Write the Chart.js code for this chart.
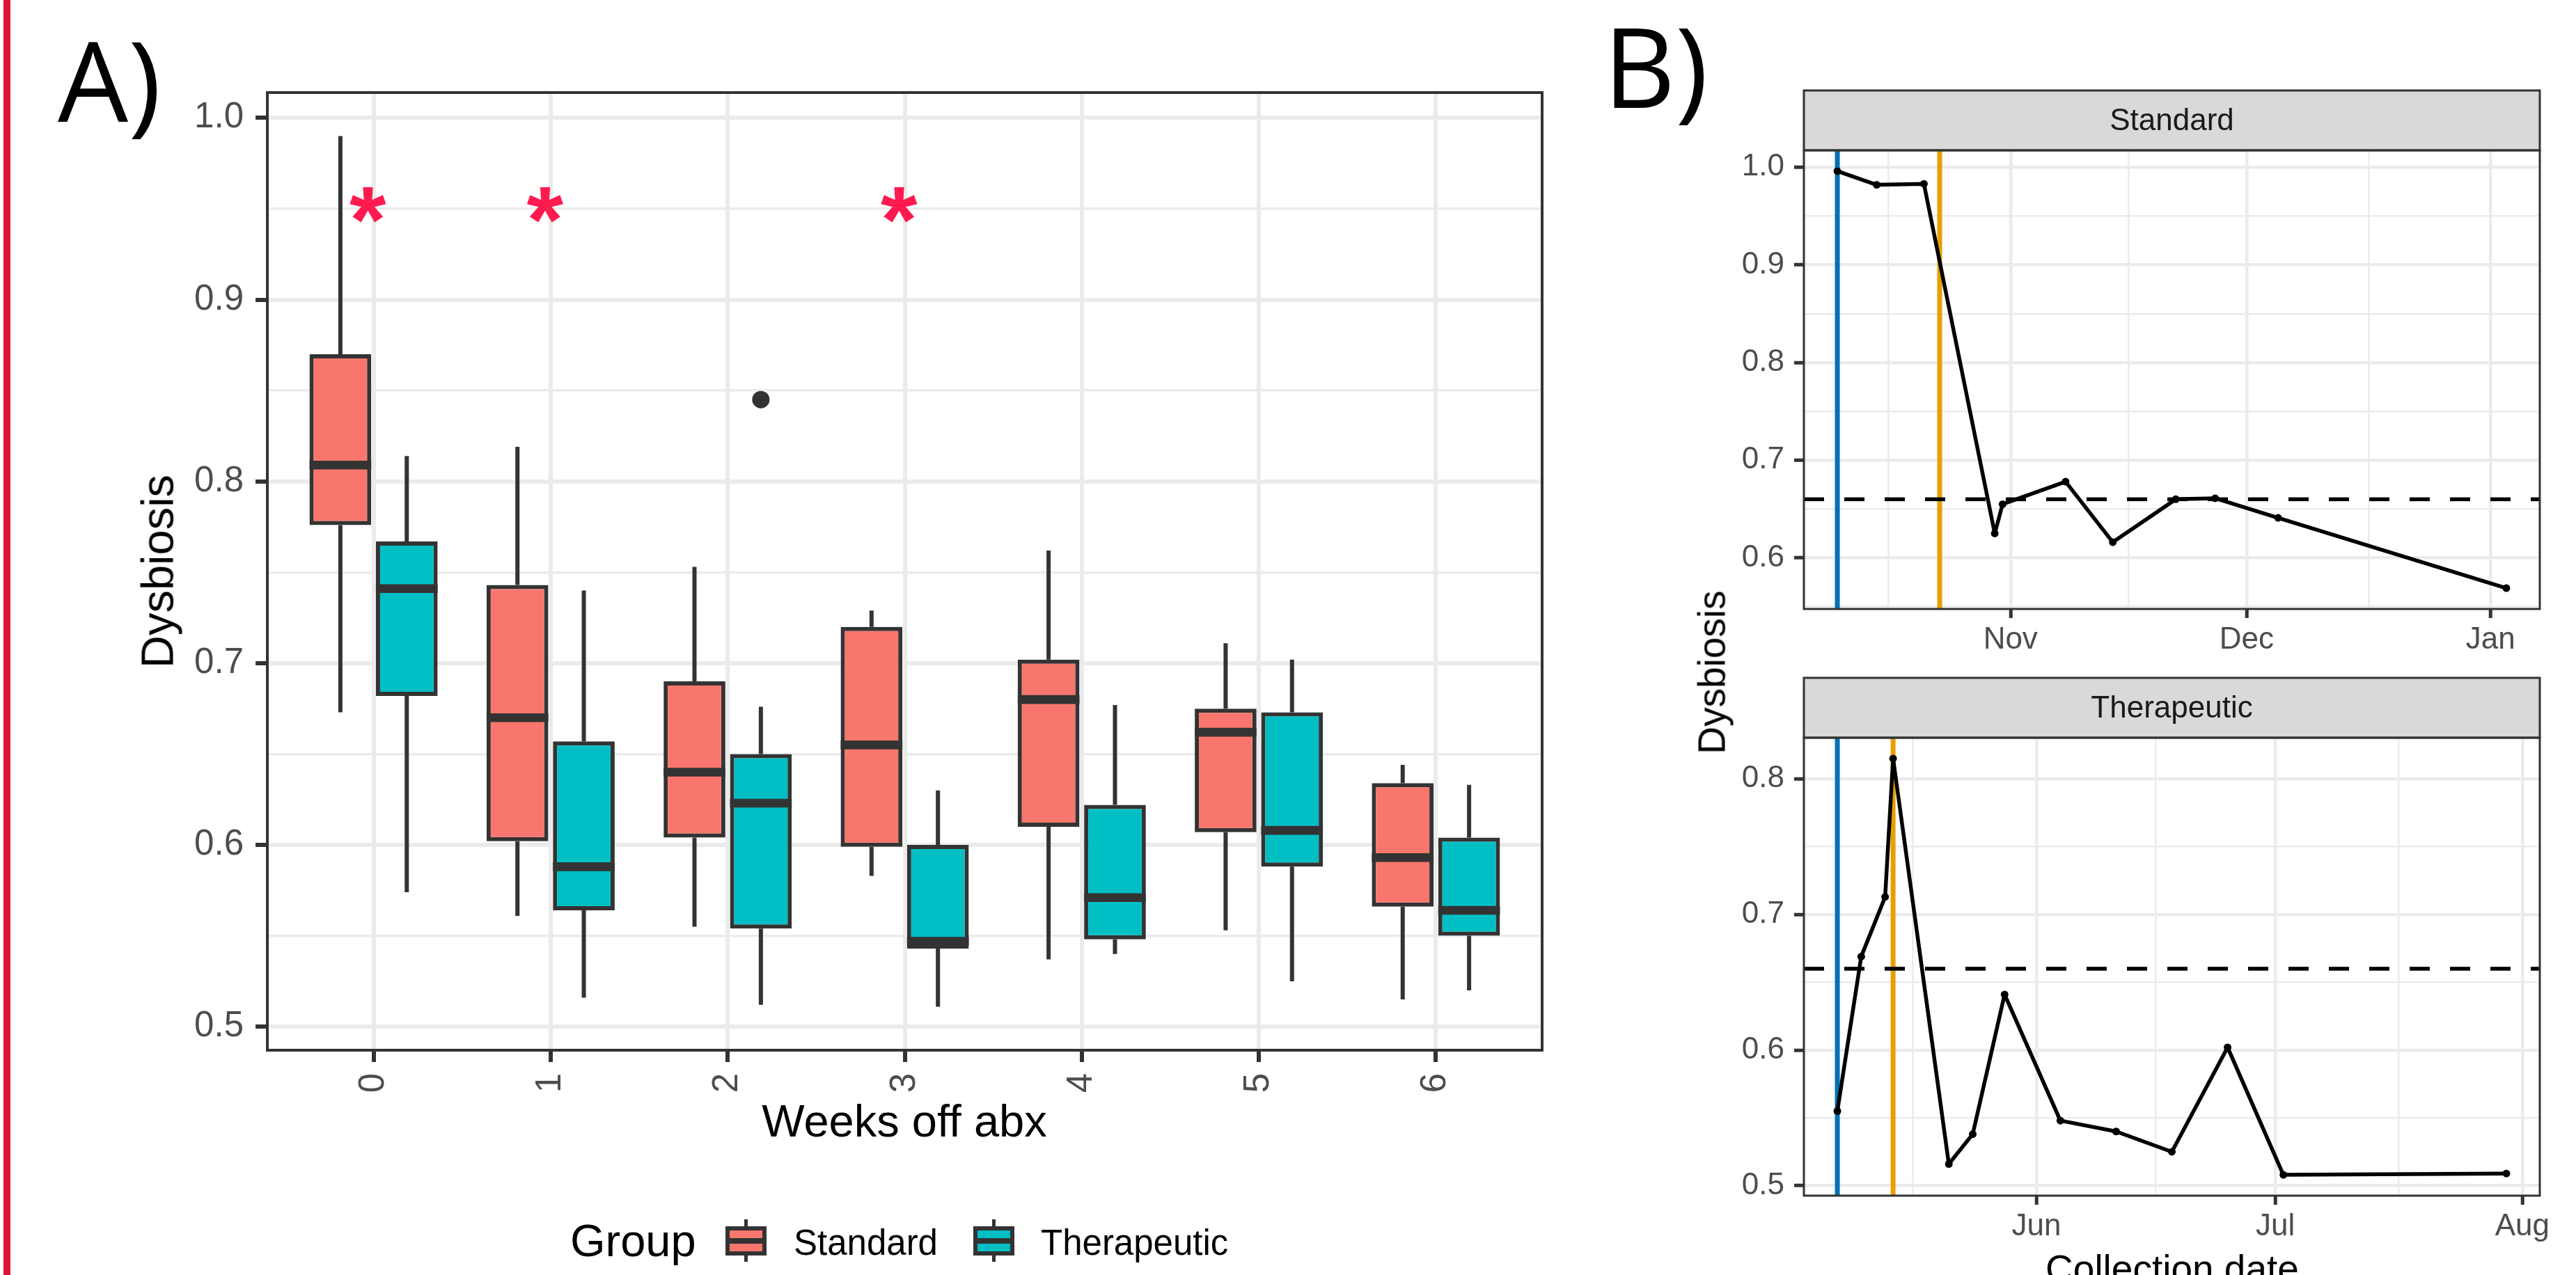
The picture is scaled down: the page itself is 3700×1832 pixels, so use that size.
<!DOCTYPE html>
<html>
<head>
<meta charset="utf-8">
<title>Dysbiosis after antibiotics</title>
<script src="https://cdn.jsdelivr.net/npm/chart.js@4/dist/chart.umd.min.js"></script>
<style>
  html, body { margin: 0; padding: 0; background: #ffffff; }
  body { position: relative; width: 3700px; height: 1832px; overflow: hidden;
         font-family: "Liberation Sans", Arial, sans-serif; color: #000000; }
  canvas { position: absolute; }
  .txt { position: absolute; white-space: nowrap; line-height: 1; }
  .tag { position: absolute; font-family: "Open Sans", sans-serif; font-size: 160px; line-height: 1; }
  .key { position: absolute; width: 59px; height: 61px; }
  .key .wh { position: absolute; left: 27px; top: 0; width: 5px; height: 61px; background: #333333; }
  .key .bx { position: absolute; left: 0; top: 10px; width: 59px; height: 42px; box-sizing: border-box; border: 6px solid #333333; }
  .key .md { position: absolute; left: 0; top: 27px; width: 59px; height: 8px; background: #333333; }
</style>
</head>
<body>
<div style="position:absolute;left:5px;top:0;width:10px;height:1832px;background:#DC143C"></div>

<canvas id="boxA" width="2300" height="1832" style="left:0;top:0"></canvas>
<canvas id="lineStd" width="1400" height="950" style="left:2300px;top:0"></canvas>
<canvas id="lineTher" width="1400" height="932" style="left:2300px;top:900px"></canvas>

<div class="tag" style="left:83px;top:33px">A)</div>
<div class="tag" style="left:2303px;top:13px">B)</div>

<div class="txt" style="left:226px;top:821px;font-size:65px;transform:translate(-50%,-50%) rotate(-90deg)">Dysbiosis</div>
<div class="txt" style="left:1299px;top:1578px;font-size:65px;transform:translateX(-50%)">Weeks off abx</div>
<div id="legendA"></div>

<div class="txt" style="left:2459px;top:966px;font-size:55px;transform:translate(-50%,-50%) rotate(-90deg)">Dysbiosis</div>
<div class="txt" style="left:3120px;top:1796px;font-size:55px;transform:translateX(-50%)">Collection date</div>

<script>
const FONT = "'Liberation Sans', Arial, sans-serif"

// ---------- A) boxplots, dysbiosis by weeks off antibiotics ----------
const weeks = [0, 1, 2, 3, 4, 5, 6]
const groups = ["Standard", "Therapeutic"]
const groupColors = ["#F8766D", "#00BFC4"]

const stdMin = [0.673, 0.561, 0.555, 0.583, 0.537, 0.553, 0.515]
const stdQ1 = [0.776, 0.602, 0.604, 0.599, 0.610, 0.607, 0.566]
const stdMed = [0.809, 0.670, 0.640, 0.655, 0.680, 0.662, 0.593]
const stdQ3 = [0.870, 0.743, 0.690, 0.720, 0.702, 0.675, 0.634]
const stdMax = [0.990, 0.819, 0.753, 0.729, 0.762, 0.711, 0.644]

const therMin = [0.574, 0.516, 0.512, 0.511, 0.540, 0.525, 0.520]
const therQ1 = [0.682, 0.564, 0.554, 0.543, 0.548, 0.588, 0.550]
const therMed = [0.741, 0.588, 0.623, 0.547, 0.571, 0.608, 0.564]
const therQ3 = [0.767, 0.657, 0.650, 0.600, 0.622, 0.673, 0.604]
const therMax = [0.814, 0.740, 0.676, 0.630, 0.677, 0.702, 0.633]

const outlierWeeks = [2]
const outlierGroups = [1]
const outlierValues = [0.845]

const starWeeks = [0, 1, 3]
const starLevel = 0.952

const yMajorA = [0.5, 0.6, 0.7, 0.8, 0.9, 1.0]
const yMinorA = [0.55, 0.65, 0.75, 0.85, 0.95]

// ---------- B) dysbiosis over collection date ----------
const monthNames = ["Jan", "Feb", "Mar", "Apr", "May", "Jun", "Jul", "Aug", "Sep", "Oct", "Nov", "Dec"]

const stdDates = ["2018-10-10", "2018-10-15", "2018-10-21", "2018-10-30", "2018-10-31", "2018-11-08",
                  "2018-11-14", "2018-11-22", "2018-11-27", "2018-12-05", "2019-01-03"]
const stdDysb = [0.996, 0.982, 0.983, 0.625, 0.655, 0.678, 0.616, 0.660, 0.661, 0.641, 0.569]
const stdAbx = ["2018-10-10", "2018-10-23"]

const therDates = ["2019-05-07", "2019-05-10", "2019-05-13", "2019-05-14", "2019-05-21", "2019-05-24",
                   "2019-05-28", "2019-06-04", "2019-06-11", "2019-06-18", "2019-06-25", "2019-07-02", "2019-07-30"]
const therDysb = [0.555, 0.669, 0.713, 0.815, 0.516, 0.538, 0.641, 0.548, 0.540, 0.525, 0.602, 0.508, 0.509]
const therAbx = ["2019-05-07", "2019-05-14"]

const threshold = 0.66
const yMajorStd = [0.6, 0.7, 0.8, 0.9, 1.0]
const yMinorStd = [0.55, 0.65, 0.75, 0.85, 0.95]
const yMajorTher = [0.5, 0.6, 0.7, 0.8]
const yMinorTher = [0.55, 0.65, 0.75]

const abxColors = ["#0072B2", "#E69F00"]

// ---------- helpers ----------
const DAY = 86400000
const toDay = s => Date.parse(s + "T00:00:00Z") / DAY

// ggplot style 5% expansion of the data range
function expand(vals) {
  const lo = Math.min(...vals), hi = Math.max(...vals), pad = (hi - lo) * 0.05
  return [lo - pad, hi + pad]
}

function monthBreaks(lo, hi) {
  const d = new Date(lo * DAY)
  const starts = []
  for (let k = -1; k <= 6; k++) starts.push(Date.UTC(d.getUTCFullYear(), d.getUTCMonth() + k, 1) / DAY)
  const major = starts.filter(t => t >= lo && t <= hi)
  const minor = []
  for (let k = 1; k < starts.length; k++) {
    const m = (starts[k - 1] + starts[k]) / 2
    if (m >= lo && m <= hi) minor.push(m)
  }
  return { major, minor }
}

const frame = (width) => ({
  id: "frame",
  afterDraw(chart) {
    const { ctx, chartArea: a } = chart
    ctx.save()
    ctx.strokeStyle = "#333333"
    ctx.lineWidth = width
    ctx.strokeRect(a.left, a.top, a.right - a.left, a.bottom - a.top)
    ctx.restore()
  }
})

// ---------- chart A ----------
const boxStats = [
  { min: stdMin, q1: stdQ1, med: stdMed, q3: stdQ3, max: stdMax },
  { min: therMin, q1: therQ1, med: therMed, q3: therQ3, max: therMax }
]
const dodge = 0.1875
const [yLoA, yHiA] = expand([...stdMin, ...stdMax, ...therMin, ...therMax, ...outlierValues])
const ticksA = [...yMajorA, ...yMinorA].sort((a, b) => a - b)

const whiskers = {
  id: "whiskers",
  afterDatasetsDraw(chart) {
    const { ctx, scales: { x, y } } = chart
    ctx.save()
    ctx.strokeStyle = "#333333"
    ctx.lineCap = "butt"
    boxStats.forEach((s, g) => {
      chart.getDatasetMeta(g).data.forEach((bar, i) => {
        ctx.lineWidth = 6
        ctx.beginPath()
        ctx.moveTo(bar.x, y.getPixelForValue(s.max[i]))
        ctx.lineTo(bar.x, y.getPixelForValue(s.q3[i]))
        ctx.moveTo(bar.x, y.getPixelForValue(s.q1[i]))
        ctx.lineTo(bar.x, y.getPixelForValue(s.min[i]))
        ctx.stroke()
        const ym = y.getPixelForValue(s.med[i])
        ctx.lineWidth = 12.6
        ctx.beginPath()
        ctx.moveTo(bar.x - bar.width / 2, ym)
        ctx.lineTo(bar.x + bar.width / 2, ym)
        ctx.stroke()
      })
    })
    // significance stars
    ctx.fillStyle = "#FF1A4F"
    ctx.font = "bold 135px " + FONT
    ctx.textAlign = "left"
    ctx.textBaseline = "alphabetic"
    const m = ctx.measureText("*")
    const gw = m.actualBoundingBoxRight + m.actualBoundingBoxLeft
    const gh = m.actualBoundingBoxAscent + m.actualBoundingBoxDescent
    starWeeks.forEach(w => {
      const px = x.getPixelForValue(w) - gw / 2 + m.actualBoundingBoxLeft - 8
      const py = y.getPixelForValue(starLevel) + gh / 2 - m.actualBoundingBoxDescent
      ctx.fillText("*", px, py)
    })
    ctx.restore()
  }
}

new Chart(document.getElementById("boxA"), {
  type: "bar",
  data: {
    datasets: [
      ...boxStats.map((s, g) => ({
        label: groups[g],
        data: weeks.map((w, i) => ({ x: w + (g ? dodge : -dodge), y: [s.q1[i], s.q3[i]] })),
        backgroundColor: groupColors[g],
        borderColor: "#333333",
        borderWidth: 6,
        borderSkipped: false,
        grouped: false,
        categoryPercentage: 1,
        barPercentage: 0.93
      })),
      {
        type: "scatter",
        label: "outliers",
        data: outlierWeeks.map((w, i) => ({ x: w + (outlierGroups[i] ? dodge : -dodge), y: outlierValues[i] })),
        pointRadius: 12.5,
        pointBackgroundColor: "#333333",
        pointBorderWidth: 0
      }
    ]
  },
  options: {
    responsive: false,
    animation: false,
    events: [],
    layout: { padding: { left: 0, top: 133, right: 85, bottom: 0 } },
    plugins: { legend: { display: false }, tooltip: { enabled: false } },
    scales: {
      x: {
        type: "linear",
        min: -0.6,
        max: 6.6,
        offset: false,
        afterBuildTicks: s => { s.ticks = weeks.map(v => ({ value: v })) },
        afterFit: s => { s.height = 323 },
        ticks: {
          autoSkip: false, minRotation: 90, maxRotation: 90, padding: 16,
          callback: v => String(v),
          font: { family: FONT, size: 51 }, color: "#4D4D4D"
        },
        grid: { offset: false, color: "#EBEBEB", lineWidth: 6, tickLength: 17, tickWidth: 6, tickColor: "#333333" },
        border: { display: false }
      },
      y: {
        min: yLoA,
        max: yHiA,
        beginAtZero: false,
        afterBuildTicks: s => { s.ticks = ticksA.map(v => ({ value: v })) },
        afterFit: s => { s.width = 384 },
        ticks: {
          autoSkip: false, padding: 17,
          callback: v => yMajorA.includes(v) ? v.toFixed(1) : "",
          font: { family: FONT, size: 51 }, color: "#4D4D4D"
        },
        grid: {
          color: "#EBEBEB",
          lineWidth: c => c.tick && yMajorA.includes(c.tick.value) ? 6 : 3.5,
          tickLength: 17, tickWidth: 6,
          tickColor: c => c.tick && yMajorA.includes(c.tick.value) ? "#333333" : "rgba(0,0,0,0)"
        },
        border: { display: false }
      }
    }
  },
  plugins: [whiskers, frame(4)]
})

// legend for A
const legendA = document.getElementById("legendA")
legendA.innerHTML = '<div class="txt" style="left:819px;top:1750px;font-size:65px">Group</div>'
const keyLeft = [1042, 1398]
const labelLeft = [1140, 1495]
groups.forEach((g, i) => {
  legendA.innerHTML +=
    '<div class="key" style="left:' + keyLeft[i] + 'px;top:1752px"><div class="wh"></div>' +
    '<div class="bx" style="background:' + groupColors[i] + '"></div><div class="md"></div></div>' +
    '<div class="txt" style="left:' + labelLeft[i] + 'px;top:1760px;font-size:51px">' + g + '</div>'
})

// ---------- chart B ----------
const refLines = (marks) => ({
  id: "refLines",
  beforeDatasetsDraw(chart) {
    const { ctx, chartArea: a, scales: { x, y } } = chart
    ctx.save()
    ctx.beginPath()
    ctx.rect(a.left, a.top, a.right - a.left, a.bottom - a.top)
    ctx.clip()
    ctx.lineWidth = 7
    marks.forEach((m, i) => {
      const px = x.getPixelForValue(m)
      ctx.strokeStyle = abxColors[i]
      ctx.beginPath()
      ctx.moveTo(px, a.top)
      ctx.lineTo(px, a.bottom)
      ctx.stroke()
    })
    const py = y.getPixelForValue(threshold)
    ctx.strokeStyle = "#000000"
    ctx.lineWidth = 5.5
    ctx.setLineDash([29, 29])
    ctx.beginPath()
    ctx.moveTo(a.left, py)
    ctx.lineTo(a.right, py)
    ctx.stroke()
    ctx.restore()
  }
})

const strip = (label) => ({
  id: "strip",
  afterDraw(chart) {
    const { ctx, chartArea: a } = chart
    const h = 86
    ctx.save()
    ctx.fillStyle = "#D9D9D9"
    ctx.fillRect(a.left, a.top - h, a.right - a.left, h)
    ctx.strokeStyle = "#333333"
    ctx.lineWidth = 3
    ctx.strokeRect(a.left, a.top - h, a.right - a.left, h)
    ctx.fillStyle = "#1A1A1A"
    ctx.font = "44px " + FONT
    ctx.textAlign = "center"
    ctx.textBaseline = "middle"
    ctx.fillText(label, (a.left + a.right) / 2, a.top - h / 2 + 1.5)
    ctx.restore()
  }
})

function dateChart(id, label, dates, values, abx, yMajor, yMinor, padTop, xHeight) {
  const days = dates.map(toDay)
  const marks = abx.map(toDay)
  const [xLo, xHi] = expand(days.concat(marks))
  const [yLo, yHi] = expand(values.concat([threshold]))
  const { major, minor } = monthBreaks(xLo, xHi)
  const xTicks = major.concat(minor).sort((a, b) => a - b)
  const yTicks = yMajor.concat(yMinor).sort((a, b) => a - b)

  return new Chart(document.getElementById(id), {
    type: "line",
    data: {
      datasets: [{
        label: label,
        data: days.map((d, i) => ({ x: d, y: values[i] })),
        borderColor: "#000000",
        borderWidth: 5.5,
        borderJoinStyle: "round",
        tension: 0,
        pointRadius: 5.5,
        pointBackgroundColor: "#000000",
        pointBorderWidth: 0
      }]
    },
    options: {
      responsive: false,
      animation: false,
      events: [],
      layout: { padding: { left: 0, top: padTop, right: 52, bottom: 0 } },
      plugins: { legend: { display: false }, tooltip: { enabled: false } },
      scales: {
        x: {
          type: "linear",
          min: xLo,
          max: xHi,
          afterBuildTicks: s => { s.ticks = xTicks.map(v => ({ value: v })) },
          afterFit: s => { s.height = xHeight },
          ticks: {
            autoSkip: false, minRotation: 0, maxRotation: 0, padding: 5,
            callback: v => major.includes(v) ? monthNames[new Date(v * DAY).getUTCMonth()] : "",
            font: { family: FONT, size: 44 }, color: "#4D4D4D"
          },
          grid: {
            color: "#EBEBEB",
            lineWidth: c => c.tick && major.includes(c.tick.value) ? 4.5 : 2.5,
            tickLength: 13, tickWidth: 5,
            tickColor: c => c.tick && major.includes(c.tick.value) ? "#333333" : "rgba(0,0,0,0)"
          },
          border: { display: false }
        },
        y: {
          min: yLo,
          max: yHi,
          afterBuildTicks: s => { s.ticks = yTicks.map(v => ({ value: v })) },
          afterFit: s => { s.width = 291 },
          ticks: {
            autoSkip: false, padding: 14,
            callback: v => yMajor.includes(v) ? v.toFixed(1) : "",
            font: { family: FONT, size: 44 }, color: "#4D4D4D"
          },
          grid: {
            color: "#EBEBEB",
            lineWidth: c => c.tick && yMajor.includes(c.tick.value) ? 4.5 : 2.5,
            tickLength: 14, tickWidth: 5,
            tickColor: c => c.tick && yMajor.includes(c.tick.value) ? "#333333" : "rgba(0,0,0,0)"
          },
          border: { display: false }
        }
      }
    },
    plugins: [refLines(marks), strip(label), frame(3)]
  })
}

dateChart("lineStd", "Standard", stdDates, stdDysb, stdAbx, yMajorStd, yMinorStd, 216, 75)
dateChart("lineTher", "Therapeutic", therDates, therDysb, therAbx, yMajorTher, yMinorTher, 160, 114)
</script>
</body>
</html>
